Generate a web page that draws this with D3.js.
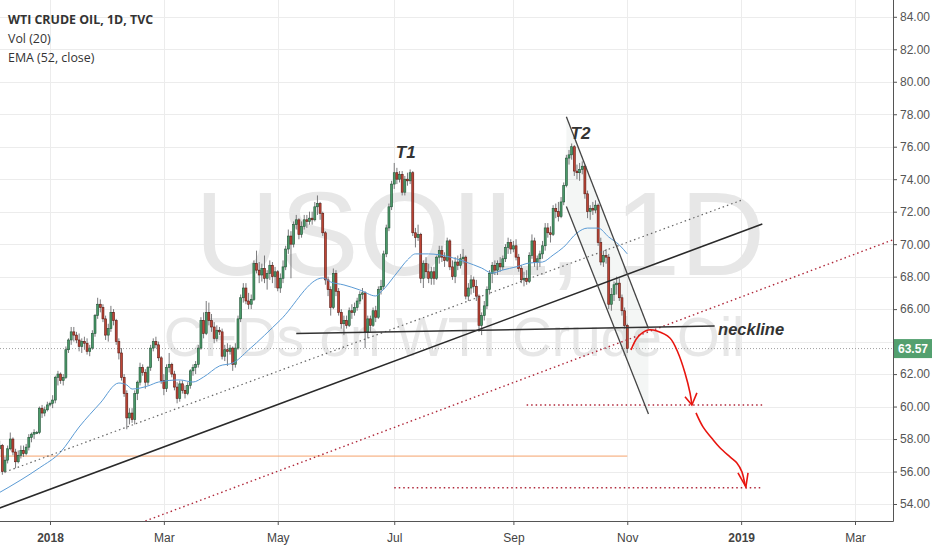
<!DOCTYPE html>
<html><head><meta charset="utf-8">
<script src="https://cdn.jsdelivr.net/npm/d3@7"></script>
<style>body{margin:0;background:#fff;} svg{display:block;}</style>
</head><body>
<svg id="c" width="932" height="550"></svg>
<script>
// ---------- DATA (daily candles [open, high, low, close]) ----------
const firstSession = "2017-12-04";
const dec17 = [
[58.2,58.3,57.1,57.4],[57.4,57.9,57.0,57.6],[57.6,57.7,55.8,56.0],[56.0,56.9,55.9,56.7],[56.7,57.6,56.5,57.4],
[57.4,58.4,57.3,58.0],[58.0,58.1,57.0,57.2],[57.2,57.4,56.2,56.6],[56.6,57.3,56.5,57.0],[57.0,57.6,56.8,57.3],
[57.3,57.6,56.9,57.1],[57.1,57.7,57.0,57.5],[57.5,58.3,57.3,58.1],[58.1,58.4,57.8,58.3],[58.3,58.6,58.0,58.4],
[58.4,58.5,58.3,58.4],[58.4,60.0,58.3,59.9],[59.9,60.1,59.3,59.6],[59.6,60.0,59.4,59.8],[59.8,60.3,59.7,60.1]];
const jan18 = [
[60.1,60.3,60.0,60.2],[60.2,60.7,59.9,60.4],[60.4,61.9,60.2,61.8],[61.8,62.2,61.3,62.0],[62.0,62.1,61.4,61.6],
[61.6,62.0,61.3,61.8],[61.8,63.7,61.7,63.5],[63.5,64.2,63.3,64.1],[64.1,64.9,63.8,64.6],[64.6,64.9,64.0,64.4],
[64.4,64.6,63.9,64.1],[64.1,64.5,63.4,63.7],[63.7,64.2,63.3,64.0],[64.0,64.3,63.5,63.9],[63.9,64.2,63.2,63.4],
[63.4,63.8,63.1,63.6],[63.6,64.7,63.5,64.5],[64.5,65.7,64.3,65.6],[65.6,66.7,65.4,66.3],[66.3,66.6,65.8,66.1],
[66.1,66.3,65.2,65.4],[65.4,65.6,64.1,64.4],[64.4,65.1,64.0,64.8]];
const feb18 = [
[64.8,66.2,64.6,65.8],[65.8,66.0,65.0,65.3],[65.3,65.4,63.8,64.0],[64.0,64.2,62.9,63.3],[63.3,63.6,61.6,61.8],
[61.8,62.0,60.6,60.8],[60.8,61.0,58.6,59.3],[59.3,59.9,58.9,59.6],[59.6,59.9,59.0,59.2],[59.2,61.0,58.9,60.8],
[60.8,61.6,60.4,61.5],[61.5,62.7,61.3,62.4],[62.4,62.6,61.9,62.1],[62.1,62.3,61.1,61.5],[61.5,62.5,61.3,62.4],
[62.4,63.8,62.2,63.6],[63.6,64.2,63.4,64.0],[64.0,64.3,63.6,63.8],[63.8,64.0,62.8,63.0],[63.0,63.1,61.4,61.6]];
const mar18 = [
[61.6,62.0,60.7,61.1],[61.1,62.6,60.9,62.4],[62.4,63.3,62.1,62.6],[62.6,62.7,61.8,62.0],[62.0,62.2,61.0,61.2],
[61.2,61.5,60.2,60.5],[60.5,61.6,60.3,61.4],[61.4,61.6,60.8,61.0],[61.0,61.3,60.5,60.8],[60.8,61.5,60.7,61.3],
[61.3,62.3,61.1,62.2],[62.2,62.6,61.9,62.4],[62.4,62.8,62.0,62.6],[62.6,63.8,62.4,63.6],[63.6,65.5,63.5,65.3],
[65.3,65.8,64.2,64.5],[64.5,66.5,64.4,65.8],[65.8,66.4,65.0,65.3],[65.3,65.7,64.6,64.9],[64.9,65.2,63.9,64.2],
[64.2,65.0,64.0,64.7],[64.7,64.9,64.4,64.6]];
const apr18 = [
[64.6,64.8,62.9,63.1],[63.1,63.8,62.8,63.5],[63.5,63.9,62.5,63.4],[63.4,63.8,63.2,63.6],[63.6,63.7,62.2,62.6],
[62.6,63.9,62.4,63.6],[63.6,65.6,63.5,65.4],[65.4,66.9,65.2,66.7],[66.7,67.6,66.4,67.3],[67.3,67.6,66.3,66.5],
[66.5,67.0,66.0,66.3],[66.3,66.9,66.0,66.6],[66.6,69.0,66.5,68.8],[68.8,69.6,68.2,68.4],[68.4,68.9,67.6,68.1],
[68.1,68.8,67.7,68.5],[68.5,69.3,67.6,67.9],[67.9,68.4,67.2,68.2],[68.2,69.0,67.8,68.7],[68.7,68.9,67.6,68.0],
[68.0,68.6,67.3,68.3]];
const may18 = [
[68.3,68.4,67.1,67.3],[67.3,68.2,67.0,67.9],[67.9,69.0,67.6,68.6],[68.6,69.9,68.4,69.7],[69.7,70.9,69.4,70.5],
[70.5,70.8,67.9,70.0],[70.0,71.4,69.8,71.2],[71.2,71.8,70.9,71.5],[71.5,71.6,70.3,70.6],[70.6,71.4,70.4,71.1],
[71.1,71.8,70.9,71.5],[71.5,71.8,71.0,71.4],[71.4,72.0,71.2,71.6],[71.6,72.0,71.2,71.5],[71.5,72.6,71.4,72.3],
[72.3,73.0,71.8,72.5],[72.5,72.6,71.5,71.9],[71.9,72.0,70.5,70.7],[70.7,70.8,67.5,67.8],[67.8,68.0,66.8,67.2],
[67.2,67.4,65.6,66.1],[66.1,68.5,66.0,68.2],[68.2,68.4,66.8,67.1]];
const jun18 = [
[67.1,67.3,65.6,65.8],[65.8,66.0,64.8,65.1],[65.1,65.6,64.4,65.3],[65.3,65.6,64.8,65.0],[65.0,66.1,64.9,65.9],
[65.9,66.3,65.4,65.8],[65.8,66.4,65.6,66.1],[66.1,66.7,65.9,66.5],[66.5,67.1,66.3,66.9],[66.9,67.3,66.6,67.0],
[67.0,67.1,63.6,64.6],[64.6,65.6,64.2,65.4],[65.4,65.6,64.6,65.0],[65.0,66.1,64.9,65.9],[65.9,66.2,65.2,65.5],
[65.5,67.4,65.4,67.2],[67.2,67.8,66.9,67.4],[67.4,69.6,67.2,69.4],[69.4,71.2,69.2,71.0],[71.0,72.5,70.8,72.3],
[72.3,73.9,72.1,73.7]];
const jul18 = [
[73.7,75.0,73.4,74.4],[74.4,74.7,73.7,74.0],[74.0,74.5,73.8,74.3],[74.3,74.5,73.0,73.2],[73.2,74.2,73.0,74.0],
[74.0,74.4,73.6,73.9],[73.9,74.6,73.7,74.4],[74.4,74.5,70.5,70.7],[70.7,71.0,69.8,70.4],[70.4,71.2,70.2,70.6],
[70.6,70.7,67.6,67.9],[67.9,69.0,67.3,68.8],[68.8,69.2,67.9,68.3],[68.3,68.8,67.6,67.9],[67.9,68.6,67.5,68.3],
[68.3,68.6,67.5,67.9],[67.9,69.3,67.8,69.2],[69.2,69.9,68.8,69.6],[69.6,69.9,68.9,69.2],[69.2,69.5,68.6,69.0],
[69.0,70.4,68.9,70.2],[70.2,70.3,68.4,68.6]];
const aug18 = [
[68.6,69.0,67.8,68.0],[68.0,69.2,67.6,68.9],[68.9,69.3,68.4,68.7],[68.7,69.4,68.5,69.1],[69.1,69.7,68.8,69.2],
[69.2,69.3,66.6,66.8],[66.8,67.6,66.5,67.3],[67.3,68.1,66.9,67.8],[67.8,68.0,67.0,67.4],[67.4,67.8,66.5,66.8],
[66.8,66.9,64.6,65.0],[65.0,65.8,64.4,65.6],[65.6,66.5,65.3,66.2],[66.2,67.4,66.0,67.2],[67.2,68.4,66.9,68.2],
[68.2,68.9,67.6,68.7],[68.7,69.0,68.1,68.4],[68.4,69.0,68.1,68.8],[68.8,69.2,68.3,68.6],[68.6,69.3,68.4,69.1],
[69.1,70.0,68.9,69.8],[69.8,70.4,69.4,70.1],[70.1,70.3,69.4,69.7]];
const sep18 = [
[69.7,70.2,69.5,69.9],[69.9,70.3,69.0,69.2],[69.2,69.4,68.3,68.5],[68.5,68.7,67.6,67.8],[67.8,68.3,67.4,67.9],
[67.9,68.4,67.5,67.7],[67.7,69.5,67.6,69.3],[69.3,70.6,69.1,70.2],[70.2,70.4,68.6,68.9],[68.9,69.3,68.4,69.1],
[69.1,69.6,68.6,69.4],[69.4,70.2,69.1,69.9],[69.9,71.3,69.6,71.0],[71.0,71.3,70.4,70.7],[70.7,71.1,70.1,70.6],
[70.6,72.4,70.5,72.2],[72.2,72.5,71.6,72.0],[72.0,72.6,71.4,71.7],[71.7,72.9,71.6,72.6],[72.6,73.8,72.4,73.6]];
const oct18 = [
[73.6,75.5,73.5,75.3],[75.3,75.8,74.9,75.5],[75.5,76.2,75.2,76.0],[76.0,76.1,74.2,74.5],[74.5,74.9,74.0,74.4],
[74.4,75.0,73.9,74.6],[74.6,75.1,74.3,74.8],[74.8,74.9,72.8,73.1],[73.1,73.3,71.6,72.0],[72.0,72.4,71.5,72.2],
[72.2,72.6,71.8,72.1],[72.1,72.7,71.9,72.4],[72.4,72.5,69.9,70.1],[70.1,70.4,68.7,68.9],[68.9,69.6,68.6,69.3],
[69.3,69.7,68.8,69.2],[69.2,69.4,66.0,66.3],[66.3,67.3,65.9,66.9],[66.9,67.7,66.5,67.5],[67.5,68.0,66.9,67.6],
[67.6,67.9,66.5,66.7],[66.7,66.9,65.6,65.9],[65.9,66.1,64.8,65.0]];
const nov18 = [[65.0,65.1,63.3,63.57]];

// EMA (52, close)
const emaDates = ["2017-12-04","2017-12-15","2017-12-26","2018-01-05","2018-01-16","2018-01-26","2018-02-06","2018-02-09",
 "2018-02-13","2018-02-21","2018-02-27","2018-03-09","2018-03-16","2018-03-22","2018-03-30","2018-04-06","2018-04-16",
 "2018-05-02","2018-05-24","2018-05-29","2018-06-05","2018-06-13","2018-06-21","2018-06-25","2018-07-03","2018-07-09",
 "2018-07-12","2018-07-19","2018-07-31","2018-08-08","2018-08-16","2018-08-22","2018-08-28","2018-09-04","2018-09-11",
 "2018-09-18","2018-09-24","2018-09-28","2018-10-05","2018-10-11","2018-10-17","2018-10-23","2018-10-29","2018-11-01"];
const emaValues = [54.62,55.48,56.22,57.2,58.74,60.22,61.45,61.33,61.08,61.27,61.51,61.64,61.51,61.82,62.5,62.68,63.49,
 65.33,67.92,67.67,67.49,67.18,66.81,67.06,68.23,69.03,69.4,69.4,69.21,68.9,68.53,68.22,68.41,68.6,68.84,68.9,69.33,
 69.82,70.69,70.99,70.99,70.44,69.95,69.4];

// axis ticks
const priceTicks = [54,56,58,60,62,64,66,68,70,72,74,76,78,80,82,84];
const monthTickDates = ["2018-01-01","2018-03-01","2018-05-01","2018-07-02","2018-09-03","2018-11-01","2019-01-01","2019-03-01"];
const monthTickLabels = ["2018","Mar","May","Jul","Sep","Nov","2019","Mar"];
const boldTickLabels = ["2018","2019"];
const lastPrice = 63.57;

// drawings: [bar index since 2018-01-01, price]
const trendLine   = [[-19,53.75],[269,71.24]];
const dottedGrey  = [[-17,55.97],[262,72.76]];
const dottedRed   = [[36,52.95],[320,70.37]];
const orangeLine  = [[-20,56.95],[218,56.95]];
const target60    = [[180,60.1],[269,60.1]];
const target55    = [[130,55.0],[269,55.0]];
const necklineLn  = [[93,64.5],[251,64.96]];
const channelUp   = [[195,77.85],[226,64.81]];
const channelLow  = [[195,72.32],[226,59.54]];
const arrow1 = [[219.4,63.48],[222.0,64.28],[225.8,64.71],[229.2,64.65],[234.1,64.22],[237.2,63.3],[239.8,62.07],[241.7,60.84],[242.4,60.1]];
const arrow1Head = [[239.8,60.6],[242.4,60.1],[244.3,60.84]];
const arrow2 = [[243.96,59.61],[246.6,58.75],[250.4,57.95],[253.0,57.46],[256.8,56.9],[259.4,56.53],[261.3,55.98],[262.5,55.18],[262.8,55.06]];
const arrow2Head = [[259.8,55.92],[262.8,55.06],[263.6,55.92]];
const labelT1 = [130.6,75.3], labelT2 = [196.6,76.45], labelNeck = [252.3,64.5];

// ---------- BUILD ----------
const W = 932, H = 550, PW = 893, PH = 521;
const svg = d3.select("#c");
const fmt = d3.timeFormat("%Y-%m-%d");
// trading sessions (weekdays) from first session to end of March 2019
const sessions = [];
for (let d = new Date(firstSession + "T00:00:00"); d <= new Date("2019-03-29T00:00:00"); d.setDate(d.getDate()+1)) {
  const wd = d.getDay(); if (wd !== 0 && wd !== 6) sessions.push(fmt(d));
}
const base = sessions.indexOf("2018-01-01");
const barOf = s => sessions.indexOf(s) - base;

const ohlc = [].concat(dec17, jan18, feb18, mar18, apr18, may18, jun18, jul18, aug18, sep18, oct18, nov18);
const candles = ohlc.map((v,i) => ({i: i - base, o:v[0], h:v[1], l:v[2], c:v[3]}));

const x = d3.scaleLinear().domain([-18.88, 318.35]).range([0, PW]);
const y = d3.scaleLinear().domain([54, 84]).range([504, 16.8]);

svg.append("defs").append("clipPath").attr("id","clip").append("rect").attr("x",0).attr("y",0).attr("width",PW).attr("height",PH);
const plot = svg.append("g").attr("clip-path","url(#clip)");

// grid
plot.selectAll(".hg").data(priceTicks).join("line")
  .attr("x1",0).attr("x2",PW).attr("y1",d=>Math.round(y(d))+0.5).attr("y2",d=>Math.round(y(d))+0.5)
  .attr("stroke","#ececec").attr("stroke-width",1);
plot.selectAll(".vg").data(monthTickDates).join("line")
  .attr("y1",0).attr("y2",PH).attr("x1",d=>Math.round(x(barOf(d)))+0.5).attr("x2",d=>Math.round(x(barOf(d)))+0.5)
  .attr("stroke","#ececec").attr("stroke-width",1);

// watermark
plot.append("text").attr("x",480).attr("y",275).attr("text-anchor","middle")
  .style("font-family","'Liberation Sans',Arial,sans-serif").style("font-size","118px").attr("fill","#e7e7e7").text("USOIL, 1D");
plot.append("text").attr("x",454).attr("y",356).attr("text-anchor","middle")
  .style("font-family","'Liberation Sans',Arial,sans-serif").style("font-size","55px").attr("fill","#e7e7e7").text("CFDs on WTI Crude Oil");

// orange line (under candles)
const line = d3.line().x(d=>x(d[0])).y(d=>y(d[1]));
plot.append("path").attr("d",line(orangeLine)).attr("stroke","#f5a36b").attr("stroke-width",1).attr("fill","none");

// channel fill
plot.append("path").attr("d", line([channelUp[0],channelUp[1],channelLow[1],channelLow[0]]) + "Z")
  .attr("fill","rgba(170,185,175,0.13)").attr("stroke","none");

// last price line
plot.append("line").attr("x1",0).attr("x2",PW).attr("y1",y(lastPrice)).attr("y2",y(lastPrice))
  .attr("stroke","#a0a0a0").attr("stroke-width",1).attr("stroke-dasharray","1,2");

// candles
const bw = 2.0;
plot.selectAll(".wick").data(candles).join("line")
  .attr("x1",d=>x(d.i)).attr("x2",d=>x(d.i)).attr("y1",d=>y(d.h)).attr("y2",d=>y(d.l))
  .attr("stroke","#7a7a7c").attr("stroke-width",1);
plot.selectAll(".body").data(candles).join("rect")
  .attr("x",d=>x(d.i)-bw/2).attr("width",bw)
  .attr("y",d=>y(Math.max(d.o,d.c))).attr("height",d=>Math.max(1,Math.abs(y(d.o)-y(d.c))))
  .attr("fill",d=>d.c>=d.o?"#4a9a69":"#bf4536")
  .attr("stroke",d=>d.c>=d.o?"#225437":"#5b1a13").attr("stroke-width",0.6);

// EMA
plot.append("path").datum(emaDates.map((s,k)=>[barOf(s),emaValues[k]]))
  .attr("d", d3.line().x(d=>x(d[0])).y(d=>y(d[1])).curve(d3.curveMonotoneX))
  .attr("fill","none").attr("stroke","#5b9bd5").attr("stroke-width",1);

// drawings
const drawLine = (pts, color, w, dash) => plot.append("path").attr("d",line(pts)).attr("fill","none")
  .attr("stroke",color).attr("stroke-width",w).attr("stroke-dasharray",dash||null);
drawLine(dottedGrey, "#666", 1.2, "1.5,3");
drawLine(dottedRed, "#b0283a", 1.4, "1.5,3");
drawLine(target60, "#b0283a", 1.4, "1.5,3");
drawLine(target55, "#b0283a", 1.4, "1.5,3");
drawLine(trendLine, "#2a2a2a", 1.6);
drawLine(necklineLn, "#333", 1.5);
drawLine(channelUp, "#444", 1.3);
drawLine(channelLow, "#444", 1.3);
const curve = d3.line().x(d=>x(d[0])).y(d=>y(d[1])).curve(d3.curveCatmullRom);
plot.append("path").attr("d",curve(arrow1)).attr("fill","none").attr("stroke","#e8150f").attr("stroke-width",1.6);
plot.append("path").attr("d",line(arrow1Head)).attr("fill","none").attr("stroke","#e8150f").attr("stroke-width",1.6);
plot.append("path").attr("d",curve(arrow2)).attr("fill","none").attr("stroke","#e8150f").attr("stroke-width",1.6);
plot.append("path").attr("d",line(arrow2Head)).attr("fill","none").attr("stroke","#e8150f").attr("stroke-width",1.6);

const annFont = "'Liberation Sans',Arial,sans-serif";
plot.append("text").attr("x",x(labelT1[0])).attr("y",y(labelT1[1])).style("font-family",annFont)
  .style("font-size","17px").style("font-weight","bold").style("font-style","italic").attr("fill","#333").text("T1");
plot.append("text").attr("x",x(labelT2[0])).attr("y",y(labelT2[1])).style("font-family",annFont)
  .style("font-size","17px").style("font-weight","bold").style("font-style","italic").attr("fill","#333").text("T2");
plot.append("text").attr("x",x(labelNeck[0])).attr("y",y(labelNeck[1])+2).style("font-family",annFont)
  .style("font-size","16.5px").style("font-weight","bold").style("font-style","italic").attr("fill","#333").text("neckline");

// axes
const axFont = "'Liberation Sans',Arial,sans-serif";
const ay = svg.append("g").attr("transform",`translate(${PW},0)`)
  .call(d3.axisRight(y).tickValues(priceTicks).tickFormat(d3.format(".2f")).tickSize(4).tickPadding(3));
ay.select(".domain").remove();
ay.selectAll("line").attr("stroke","#555");
ay.selectAll("text").style("font-family",axFont).style("font-size","12px").attr("fill","#555");
// the tick label hidden behind the last-price badge
ay.selectAll(".tick").filter(d => Math.abs(y(d) - y(lastPrice)) < 14).select("text").remove();
const ax = svg.append("g").attr("transform",`translate(0,${PH})`)
  .call(d3.axisBottom(x).tickValues(monthTickDates.map(barOf)).tickFormat((d,k)=>monthTickLabels[k]).tickSize(4).tickPadding(8));
ax.select(".domain").remove();
ax.selectAll("line").attr("stroke","#555");
ax.selectAll("text").style("font-family",axFont).style("font-size","12px").attr("fill","#444")
  .style("font-weight",(d,k)=>boldTickLabels.includes(monthTickLabels[k])?"bold":"normal");
svg.append("line").attr("x1",PW+0.5).attr("x2",PW+0.5).attr("y1",0).attr("y2",PH+0.5).attr("stroke","#555");
svg.append("line").attr("x1",0).attr("x2",PW+0.5).attr("y1",PH+0.5).attr("y2",PH+0.5).attr("stroke","#555");

// last price label
const ly = y(lastPrice);
svg.append("rect").attr("x",PW+1).attr("y",ly-9.5).attr("width",W-PW-1).attr("height",19).attr("fill","#53a06f");
svg.append("text").attr("x",PW+5).attr("y",ly+4.5).style("font-family",axFont).style("font-size","12px")
  .style("font-weight","bold").attr("fill","#fff").text(d3.format(".2f")(lastPrice));

// legend
const lg = svg.append("g").style("font-family","'Open Sans',sans-serif").attr("fill","#333");
lg.append("text").attr("x",8).attr("y",24).style("font-size","12.4px").style("font-weight","bold").text("WTI CRUDE OIL, 1D, TVC");
lg.append("text").attr("x",8).attr("y",43).style("font-size","12.4px").text("Vol (20)");
lg.append("text").attr("x",8).attr("y",62).style("font-size","12.4px").text("EMA (52, close)");
</script>
</body></html>
